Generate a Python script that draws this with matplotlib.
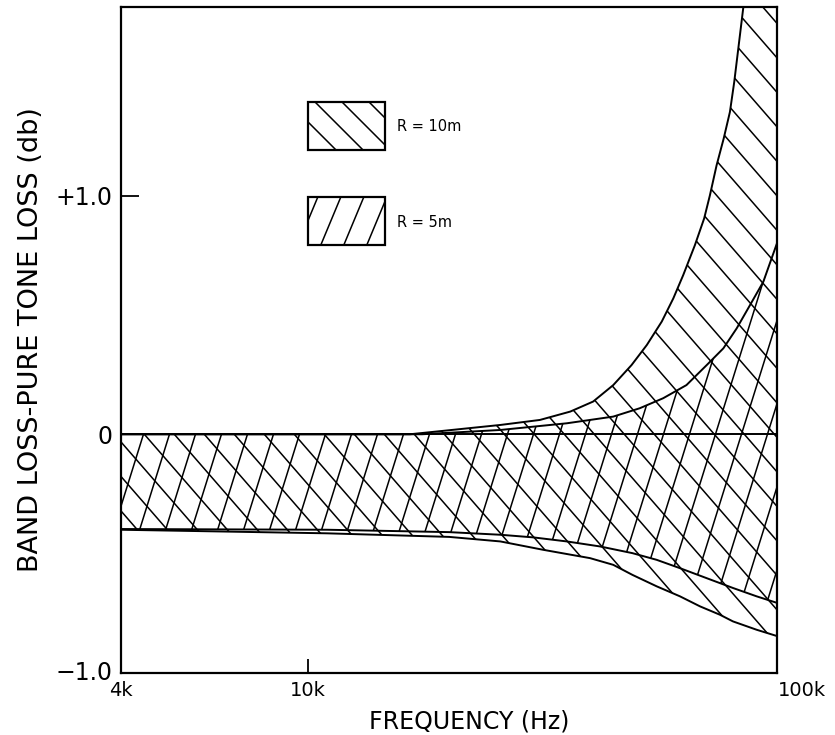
import numpy as np
import matplotlib
matplotlib.use("Agg")
import matplotlib.pyplot as plt
from matplotlib.collections import LineCollection
from matplotlib.patches import Rectangle
from matplotlib.ticker import NullLocator

# band loss minus pure tone loss (db)
# R = 10 m band
f10_up = [4000, 10000, 16500, 25700, 31200, 36200, 40500, 44700, 48900, 52700, 56700,
          60000, 63000, 66700, 69800, 71800, 74200, 76800, 79200, 80900, 84600, 90000, 100000]
v10_up = [0.0, 0.0, 0.0, 0.039, 0.060, 0.095, 0.137, 0.206, 0.290, 0.374, 0.472,
          0.569, 0.667, 0.792, 0.904, 1.001, 1.127, 1.238, 1.350, 1.476, 1.79, 2.4, 3.6]
f10_lo = [4000, 11000, 20000, 25700, 31700, 39900, 44700, 49100, 55300, 62000, 68400,
          75400, 80400, 90300, 100000]
v10_lo = [-0.40, -0.415, -0.43, -0.449, -0.484, -0.519, -0.547, -0.589, -0.637, -0.679, -0.721,
          -0.756, -0.784, -0.819, -0.846]
# R = 5 m band
f5_up = [4000, 10000, 17500, 25700, 35600, 44700, 50900, 57100, 64000, 70700, 76700,
         81900, 87400, 93300, 100000]
v5_up = [0.0, 0.0, 0.0, 0.018, 0.046, 0.074, 0.109, 0.151, 0.206, 0.290, 0.360,
         0.444, 0.541, 0.639, 0.806]
f5_lo = [4000, 11000, 20000, 25700, 30200, 35600, 41900, 49100, 55300, 62000, 70700,
         80400, 90300, 100000]
v5_lo = [-0.397, -0.40, -0.41, -0.421, -0.432, -0.449, -0.470, -0.498, -0.526, -0.561, -0.603,
         -0.644, -0.679, -0.707]

xticks = [4000, 10000, 100000]
xticklabels = ["4k", "10k", "100k"]
yticks = [0.0, 1.0]
yticklabels = ["0", "+1.0"]

fig = plt.figure(figsize=(8.35, 7.35), dpi=100)
ax = fig.add_axes([0.1449, 0.0844, 0.7862, 0.9061])
ax_w = 0.7862 * 835
ax_h = 0.9061 * 735


def hatch(ax, clip, slope, step, lw=1.1, zorder=2):
    # parallel lines in axes fraction, clipped to a patch
    span = ax_h / abs(slope)
    segs = []
    for x0 in np.arange(-span - step, ax_w + span + step, step):
        segs.append([(x0 / ax_w, 0.0), ((x0 + ax_h / slope) / ax_w, 1.0)])
    lc = LineCollection(segs, colors="black", linewidths=lw,
                        transform=ax.transAxes, zorder=zorder)
    ax.add_collection(lc)
    # set after adding, otherwise add_collection resets it to the axes patch
    lc.set_clip_path(clip)


ax.set_xscale("log")
ax.set_xlim(4000, 100000)
ax.set_ylim(-1.0, 1.79)

# bands (invisible fills used as clip shapes for the hatching)
p10 = ax.fill(f10_up + f10_lo[::-1], v10_up + v10_lo[::-1],
              facecolor="none", edgecolor="none")[0]
p5 = ax.fill(f5_up + f5_lo[::-1], v5_up + v5_lo[::-1],
             facecolor="none", edgecolor="none")[0]

hatch(ax, p10, -1.15, 30)
hatch(ax, p5, 3.2, 26)

for fx, vy in [(f10_up, v10_up), (f10_lo, v10_lo), (f5_up, v5_up), (f5_lo, v5_lo)]:
    ax.plot(fx, vy, color="black", lw=1.4)
ax.axhline(0, color="black", lw=1.4)

# legend boxes
r1 = Rectangle((0.285, 0.785), 0.117, 0.072, transform=ax.transAxes,
               facecolor="white", edgecolor="black", lw=1.6, zorder=3)
r2 = Rectangle((0.285, 0.643), 0.117, 0.072, transform=ax.transAxes,
               facecolor="white", edgecolor="black", lw=1.6, zorder=3)
ax.add_patch(r1)
ax.add_patch(r2)
hatch(ax, r1, -1.0, 27, zorder=4)
hatch(ax, r2, 2.4, 23, zorder=4)
ax.text(0.420, 0.820, "R = 10m", transform=ax.transAxes, fontsize=10.5,
        ha="left", va="center")
ax.text(0.420, 0.677, "R = 5m", transform=ax.transAxes, fontsize=10.5,
        ha="left", va="center")

# axes
for sp in ax.spines.values():
    sp.set_linewidth(1.6)
ax.xaxis.set_minor_locator(NullLocator())
ax.set_xticks(xticks)
ax.set_xticklabels(xticklabels, fontsize=14)
ax.set_yticks(yticks)
ax.set_yticklabels(yticklabels, fontsize=17)
ax.tick_params(axis="x", direction="in", length=10, width=1.3, pad=6)
ax.tick_params(axis="y", direction="in", length=13, width=1.3, pad=6)
ax.get_xticklabels()[-1].set_ha("left")
ax.text(-0.013, 0.0, "\u22121.0", transform=ax.transAxes, fontsize=17,
        ha="right", va="center")

ax.set_xlabel("FREQUENCY (Hz)", fontsize=17)
ax.xaxis.set_label_coords(0.53, -0.055)
ax.set_ylabel("BAND LOSS-PURE TONE LOSS (db)", fontsize=19.5)
ax.yaxis.set_label_coords(-0.118, 0.5)

fig.savefig("out.png", dpi=100)
